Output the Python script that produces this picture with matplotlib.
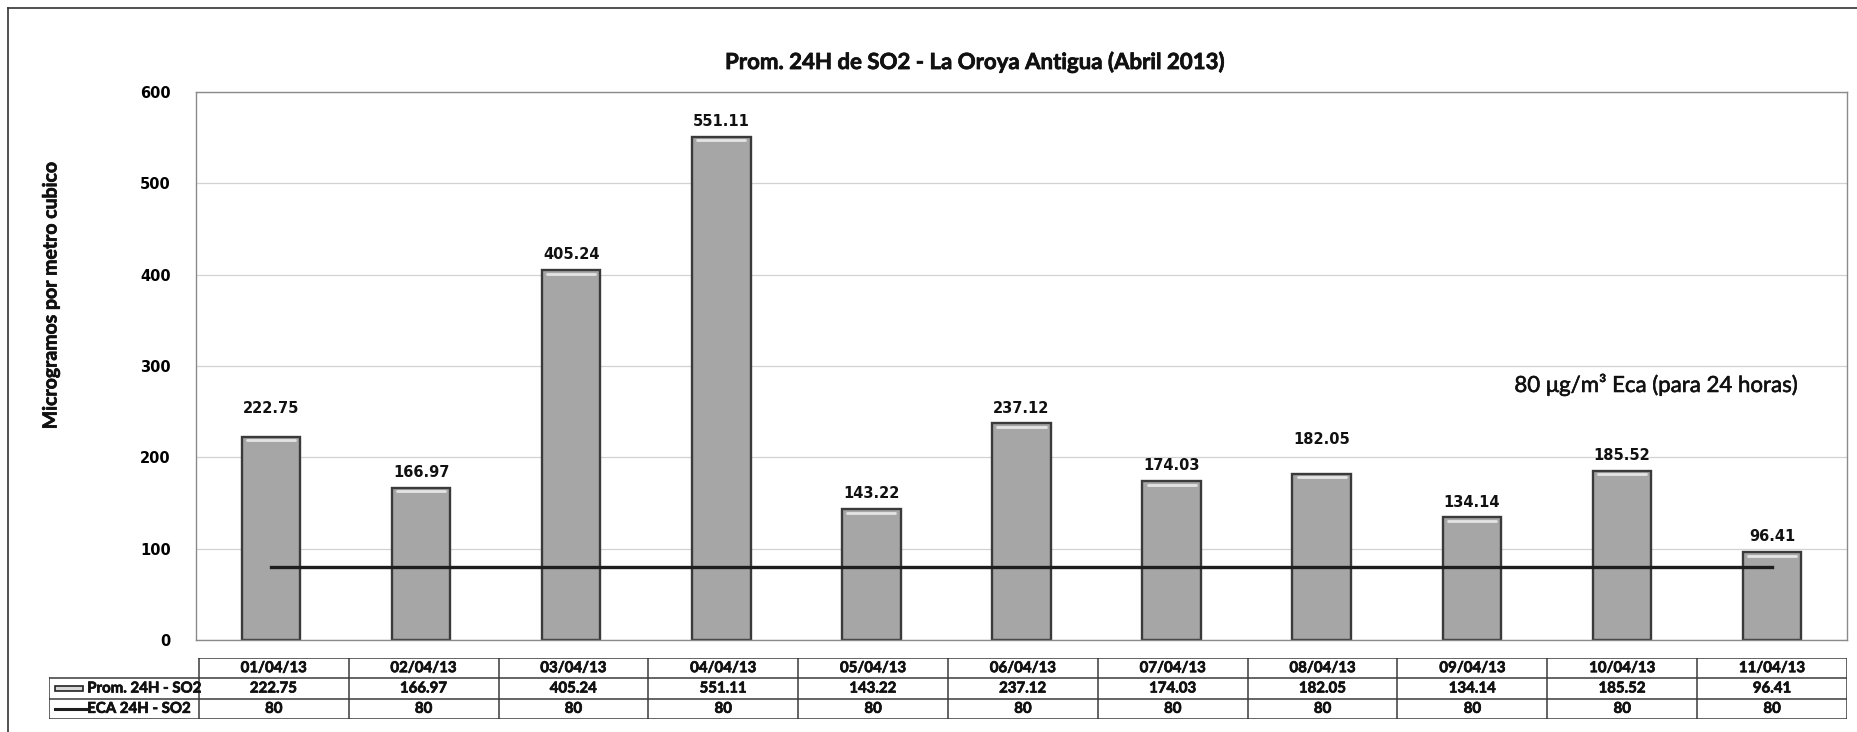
import matplotlib.pyplot as plt
import matplotlib.patheffects as pe
from matplotlib.lines import Line2D
from matplotlib.patches import Rectangle

# data
fechas = ['01/04/13', '02/04/13', '03/04/13', '04/04/13', '05/04/13', '06/04/13',
          '07/04/13', '08/04/13', '09/04/13', '10/04/13', '11/04/13']
prom_so2 = [222.75, 166.97, 405.24, 551.11, 143.22, 237.12, 174.03, 182.05, 134.14, 185.52, 96.41]
eca_so2 = [80, 80, 80, 80, 80, 80, 80, 80, 80, 80, 80]
serie_nombres = ['Prom. 24H - SO2', 'ECA 24H - SO2']

W, H = 1858, 732
fig = plt.figure(figsize=(W / 100, H / 100), dpi=100)
fig.patch.set_facecolor('white')

# slight stroke so Lato looks as heavy as the scanned Calibri
heavy = [pe.withStroke(linewidth=0.5, foreground='#111111')]

# page border of the scan (top and left)
fig.add_artist(Line2D([8 / W, 1], [1 - 8 / H, 1 - 8 / H], color='#333333', lw=1.2))
fig.add_artist(Line2D([8 / W, 8 / W], [0, 1 - 8 / H], color='#333333', lw=1.2))

ax = fig.add_axes([196 / W, 1 - 640 / H, (1847 - 196) / W, (640 - 92) / H])
x = list(range(len(fechas)))

ax.bar(x, prom_so2, width=0.39, color='#a6a6a6', edgecolor='#3a3a3a', linewidth=1.7, zorder=2)
# light bevel along the top of each bar
for xi, v in zip(x, prom_so2):
    ax.plot([xi - 0.16, xi + 0.16], [v - 4, v - 4], color='#e4e4e4', lw=2, zorder=3,
            solid_capstyle='round')

ax.plot(x, eca_so2, color='#1e1e1e', lw=2.4, zorder=4)

# value labels (two were moved up in the original)
extra = {0: 9, 7: 14}
for xi, v in zip(x, prom_so2):
    ax.annotate(f'{v:.2f}', (xi, v), xytext=(0, 11 + extra.get(xi, 0)), textcoords='offset points',
                ha='center', va='center', fontsize=10.5, fontweight='bold', color='#111111',
                family='DejaVu Sans')

ax.set_xlim(-0.5, len(fechas) - 0.5)
ax.set_ylim(0, 600)
ax.set_yticks(range(0, 601, 100))
ax.set_xticks([])
ax.tick_params(axis='y', length=0, pad=18, labelsize=10.5)
for lab in ax.get_yticklabels():
    lab.set_fontweight('bold')
ax.yaxis.grid(True, color='#d2d2d2', lw=0.9)
ax.set_axisbelow(True)
for s in ax.spines.values():
    s.set_color('#8a8a8a')
    s.set_linewidth(1.0)

fig.text(975 / W, 1 - 62 / H, 'Prom. 24H de SO2 - La Oroya Antigua (Abril 2013)',
         ha='center', va='center', fontsize=16, fontweight='bold', family='Lato',
         color='#111111', path_effects=heavy)
fig.text(51 / W, 1 - 295 / H, 'Microgramos por metro cubico', rotation=90,
         ha='center', va='center', fontsize=14, fontweight='bold', family='Lato',
         color='#111111', path_effects=heavy)
fig.text(1799 / W, 1 - 385 / H, '80 \u03bcg/m\u00b3 Eca (para 24 horas)',
         ha='right', va='center', fontsize=16, family='Lato', color='#111111',
         path_effects=[pe.withStroke(linewidth=0.4, foreground='#111111')])

# data table under the chart
tax = fig.add_axes([49 / W, 1 - 719 / H, (1847 - 49) / W, (719 - 658) / H])
n = len(fechas)
tax.set_xlim(-1.5, n - 0.5)
tax.set_ylim(3, 0)
tax.axis('off')
lc = '#3a3a3a'
tax.plot([-0.5, n - 0.5], [0, 0], color=lc, lw=1.1)
for yy in (1, 2, 3):
    tax.plot([-1.5, n - 0.5], [yy, yy], color=lc, lw=1.1)
tax.plot([-1.5, -1.5], [1, 3], color=lc, lw=1.1)
for k in range(n + 1):
    tax.plot([k - 0.5, k - 0.5], [0, 3], color=lc, lw=1.1)

tfont = dict(va='center', fontsize=10.8, fontweight='bold', family='Lato', color='#111111',
             path_effects=heavy)
for i in range(n):
    tax.text(i, 0.5, fechas[i], ha='center', **tfont)
    tax.text(i, 1.5, f'{prom_so2[i]:.2f}', ha='center', **tfont)
    tax.text(i, 2.5, f'{eca_so2[i]}', ha='center', **tfont)

# legend keys in the row labels
tax.add_patch(Rectangle((-1.46, 1.38), 0.19, 0.24, facecolor='#d8d8d8', edgecolor='#222222', lw=1.2))
tax.plot([-1.46, -1.25], [2.5, 2.5], color='#1e1e1e', lw=2.2)
tax.text(-1.245, 1.5, serie_nombres[0], ha='left', **tfont)
tax.text(-1.245, 2.5, serie_nombres[1], ha='left', **tfont)

fig.savefig('out.png', dpi=100, facecolor='white')
